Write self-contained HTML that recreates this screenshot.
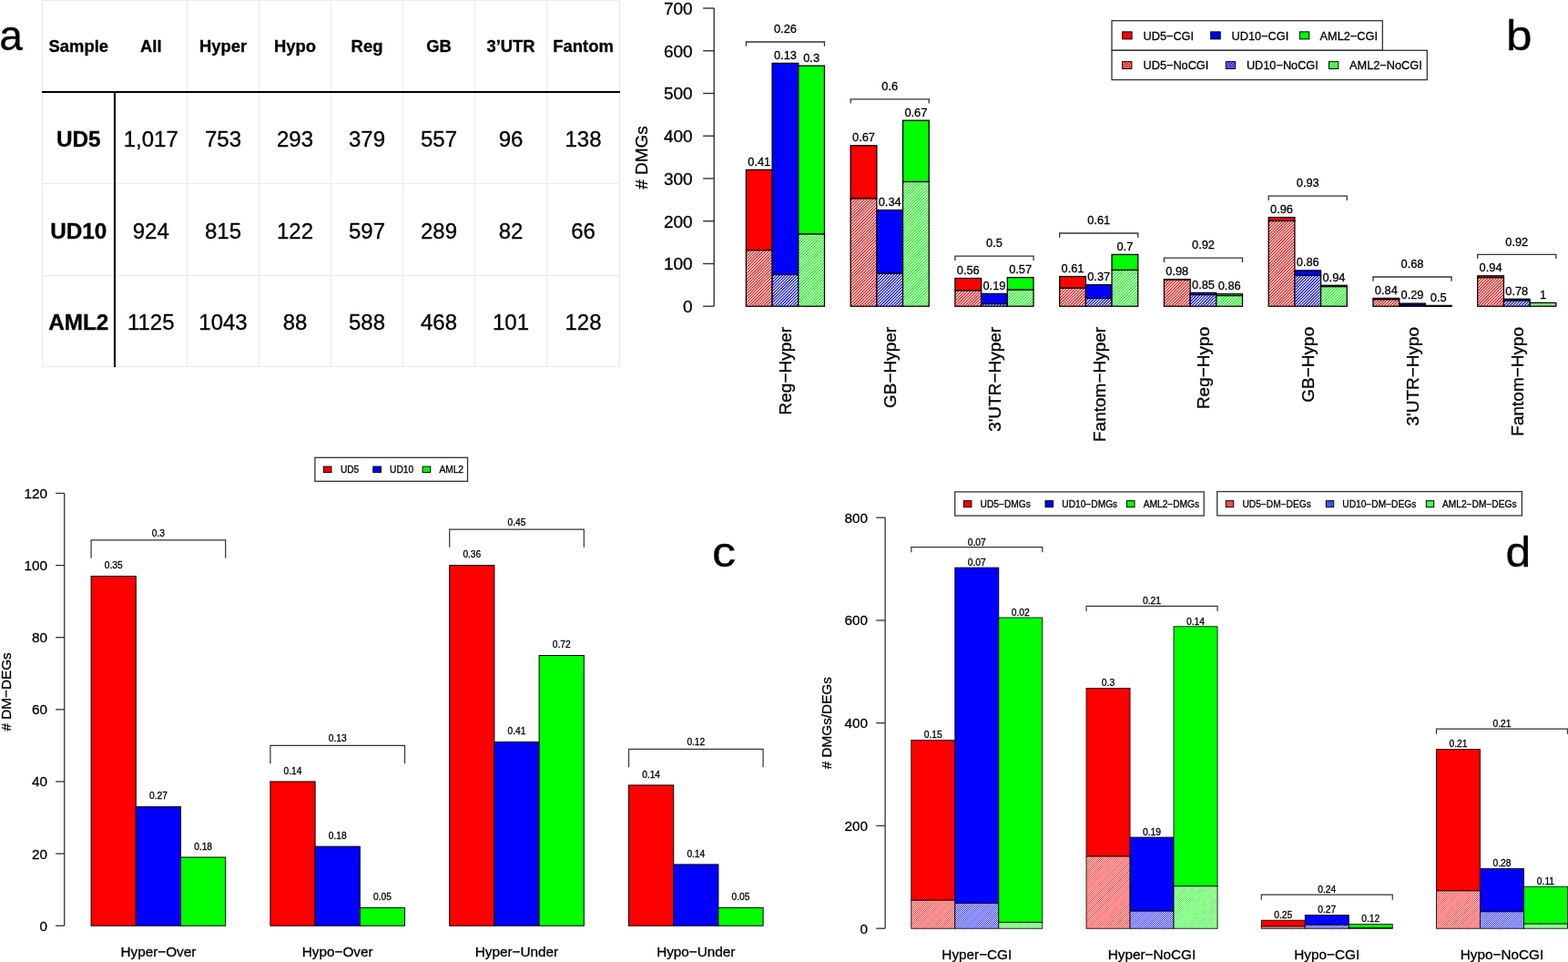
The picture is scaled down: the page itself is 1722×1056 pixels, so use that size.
<!DOCTYPE html>
<html><head><meta charset="utf-8"><title>Figure</title>
<style>
html,body{margin:0;padding:0;background:#fff;}
body{width:1722px;height:1056px;overflow:hidden;}
svg{display:block;font-family:"Liberation Sans", Arial, Helvetica, sans-serif;}
text{stroke:#000;stroke-width:0.3px;}
</style></head>
<body>
<svg width="1722" height="1056" viewBox="0 0 1722 1056">
<rect width="1722" height="1056" fill="#fff"/>
<defs>
<pattern id="hr" patternUnits="userSpaceOnUse" width="16" height="16"><rect width="16" height="16" fill="#fff"/><path d="M1,-1 L-17,17 M4.2,-1 L-13.8,17 M7.4,-1 L-10.6,17 M10.6,-1 L-7.4,17 M13.8,-1 L-4.2,17 M17,-1 L-1,17 M20.2,-1 L2.2,17 M23.4,-1 L5.4,17 M26.6,-1 L8.6,17 M29.8,-1 L11.8,17 M33,-1 L15,17" stroke="#ff0000" stroke-width="1.1"/></pattern>
<pattern id="hb" patternUnits="userSpaceOnUse" width="16" height="16"><rect width="16" height="16" fill="#fff"/><path d="M1,-1 L-17,17 M4.2,-1 L-13.8,17 M7.4,-1 L-10.6,17 M10.6,-1 L-7.4,17 M13.8,-1 L-4.2,17 M17,-1 L-1,17 M20.2,-1 L2.2,17 M23.4,-1 L5.4,17 M26.6,-1 L8.6,17 M29.8,-1 L11.8,17 M33,-1 L15,17" stroke="#0000ff" stroke-width="1.1"/></pattern>
<pattern id="hg" patternUnits="userSpaceOnUse" width="16" height="16"><rect width="16" height="16" fill="#fff"/><path d="M1,-1 L-17,17 M4.2,-1 L-13.8,17 M7.4,-1 L-10.6,17 M10.6,-1 L-7.4,17 M13.8,-1 L-4.2,17 M17,-1 L-1,17 M20.2,-1 L2.2,17 M23.4,-1 L5.4,17 M26.6,-1 L8.6,17 M29.8,-1 L11.8,17 M33,-1 L15,17" stroke="#00ff00" stroke-width="1.1"/></pattern>
<pattern id="dr" patternUnits="userSpaceOnUse" width="9" height="9"><rect width="9" height="9" fill="#fff"/><path d="M1,-1 L-10,10 M3.25,-1 L-7.75,10 M5.5,-1 L-5.5,10 M7.75,-1 L-3.25,10 M10,-1 L-1,10 M12.25,-1 L1.25,10 M14.5,-1 L3.5,10 M16.75,-1 L5.75,10 M19,-1 L8,10" stroke="#ff0000" stroke-width="1.0"/></pattern>
<pattern id="db" patternUnits="userSpaceOnUse" width="9" height="9"><rect width="9" height="9" fill="#fff"/><path d="M1,-1 L-10,10 M3.25,-1 L-7.75,10 M5.5,-1 L-5.5,10 M7.75,-1 L-3.25,10 M10,-1 L-1,10 M12.25,-1 L1.25,10 M14.5,-1 L3.5,10 M16.75,-1 L5.75,10 M19,-1 L8,10" stroke="#0000ff" stroke-width="1.0"/></pattern>
<pattern id="dg" patternUnits="userSpaceOnUse" width="9" height="9"><rect width="9" height="9" fill="#fff"/><path d="M1,-1 L-10,10 M3.25,-1 L-7.75,10 M5.5,-1 L-5.5,10 M7.75,-1 L-3.25,10 M10,-1 L-1,10 M12.25,-1 L1.25,10 M14.5,-1 L3.5,10 M16.75,-1 L5.75,10 M19,-1 L8,10" stroke="#00ff00" stroke-width="1.0"/></pattern>
<pattern id="lr" patternUnits="userSpaceOnUse" width="3" height="3"><rect width="3" height="3" fill="#fff"/><path d="M1,-1 L-4,4 M4,-1 L-1,4 M7,-1 L2,4" stroke="#ff0000" stroke-width="1.5"/></pattern>
<pattern id="lb" patternUnits="userSpaceOnUse" width="3" height="3"><rect width="3" height="3" fill="#fff"/><path d="M1,-1 L-4,4 M4,-1 L-1,4 M7,-1 L2,4" stroke="#0000ff" stroke-width="1.5"/></pattern>
<pattern id="lg" patternUnits="userSpaceOnUse" width="3" height="3"><rect width="3" height="3" fill="#fff"/><path d="M1,-1 L-4,4 M4,-1 L-1,4 M7,-1 L2,4" stroke="#00ff00" stroke-width="1.5"/></pattern>
<pattern id="mr" patternUnits="userSpaceOnUse" width="9" height="9"><rect width="9" height="9" fill="#fff"/><path d="M1,-1 L-10,10 M3.25,-1 L-7.75,10 M5.5,-1 L-5.5,10 M7.75,-1 L-3.25,10 M10,-1 L-1,10 M12.25,-1 L1.25,10 M14.5,-1 L3.5,10 M16.75,-1 L5.75,10 M19,-1 L8,10" stroke="#ff0000" stroke-width="1.2"/></pattern>
<pattern id="mb" patternUnits="userSpaceOnUse" width="9" height="9"><rect width="9" height="9" fill="#fff"/><path d="M1,-1 L-10,10 M3.25,-1 L-7.75,10 M5.5,-1 L-5.5,10 M7.75,-1 L-3.25,10 M10,-1 L-1,10 M12.25,-1 L1.25,10 M14.5,-1 L3.5,10 M16.75,-1 L5.75,10 M19,-1 L8,10" stroke="#0000ff" stroke-width="1.2"/></pattern>
<pattern id="mg" patternUnits="userSpaceOnUse" width="9" height="9"><rect width="9" height="9" fill="#fff"/><path d="M1,-1 L-10,10 M3.25,-1 L-7.75,10 M5.5,-1 L-5.5,10 M7.75,-1 L-3.25,10 M10,-1 L-1,10 M12.25,-1 L1.25,10 M14.5,-1 L3.5,10 M16.75,-1 L5.75,10 M19,-1 L8,10" stroke="#00ff00" stroke-width="1.2"/></pattern>
</defs>
<text transform="translate(-0.8,55) scale(0.98,1)" font-size="47" >a</text>
<line x1="46.5" y1="0" x2="46.5" y2="403" stroke="#ebebeb" stroke-width="1" />
<line x1="205.5" y1="0" x2="205.5" y2="403" stroke="#ebebeb" stroke-width="1" />
<line x1="284.5" y1="0" x2="284.5" y2="403" stroke="#ebebeb" stroke-width="1" />
<line x1="363.5" y1="0" x2="363.5" y2="403" stroke="#ebebeb" stroke-width="1" />
<line x1="442.5" y1="0" x2="442.5" y2="403" stroke="#ebebeb" stroke-width="1" />
<line x1="521.5" y1="0" x2="521.5" y2="403" stroke="#ebebeb" stroke-width="1" />
<line x1="600.5" y1="0" x2="600.5" y2="403" stroke="#ebebeb" stroke-width="1" />
<line x1="680.5" y1="0" x2="680.5" y2="403" stroke="#ebebeb" stroke-width="1" />
<line x1="46" y1="0.5" x2="681" y2="0.5" stroke="#ebebeb" stroke-width="1" />
<line x1="46" y1="201.5" x2="681" y2="201.5" stroke="#ebebeb" stroke-width="1" />
<line x1="46" y1="302.5" x2="681" y2="302.5" stroke="#ebebeb" stroke-width="1" />
<line x1="46" y1="402.5" x2="681" y2="402.5" stroke="#ebebeb" stroke-width="1" />
<line x1="46" y1="101" x2="681" y2="101" stroke="#000" stroke-width="2.1" />
<line x1="126" y1="101" x2="126" y2="403" stroke="#000" stroke-width="2.1" />
<text transform="translate(86.25,57) scale(1.035,1)" font-size="17.8" text-anchor="middle" font-weight="bold" >Sample</text>
<text transform="translate(165.75,57) scale(1.035,1)" font-size="17.8" text-anchor="middle" font-weight="bold" >All</text>
<text transform="translate(245,57) scale(1.035,1)" font-size="17.8" text-anchor="middle" font-weight="bold" >Hyper</text>
<text transform="translate(324,57) scale(1.035,1)" font-size="17.8" text-anchor="middle" font-weight="bold" >Hypo</text>
<text transform="translate(403,57) scale(1.035,1)" font-size="17.8" text-anchor="middle" font-weight="bold" >Reg</text>
<text transform="translate(482,57) scale(1.035,1)" font-size="17.8" text-anchor="middle" font-weight="bold" >GB</text>
<text transform="translate(561,57) scale(1.035,1)" font-size="17.8" text-anchor="middle" font-weight="bold" >3’UTR</text>
<text transform="translate(640.5,57) scale(1.035,1)" font-size="17.8" text-anchor="middle" font-weight="bold" >Fantom</text>
<text transform="translate(86.25,160.9) scale(1.05,1)" font-size="23.2" text-anchor="middle" font-weight="bold" >UD5</text>
<text transform="translate(165.75,160.9) scale(1.035,1)" font-size="23.2" text-anchor="middle" >1,017</text>
<text transform="translate(245,160.9) scale(1.035,1)" font-size="23.2" text-anchor="middle" >753</text>
<text transform="translate(324,160.9) scale(1.035,1)" font-size="23.2" text-anchor="middle" >293</text>
<text transform="translate(403,160.9) scale(1.035,1)" font-size="23.2" text-anchor="middle" >379</text>
<text transform="translate(482,160.9) scale(1.035,1)" font-size="23.2" text-anchor="middle" >557</text>
<text transform="translate(561,160.9) scale(1.035,1)" font-size="23.2" text-anchor="middle" >96</text>
<text transform="translate(640.5,160.9) scale(1.035,1)" font-size="23.2" text-anchor="middle" >138</text>
<text transform="translate(86.25,262.2) scale(1.05,1)" font-size="23.2" text-anchor="middle" font-weight="bold" >UD10</text>
<text transform="translate(165.75,262.2) scale(1.035,1)" font-size="23.2" text-anchor="middle" >924</text>
<text transform="translate(245,262.2) scale(1.035,1)" font-size="23.2" text-anchor="middle" >815</text>
<text transform="translate(324,262.2) scale(1.035,1)" font-size="23.2" text-anchor="middle" >122</text>
<text transform="translate(403,262.2) scale(1.035,1)" font-size="23.2" text-anchor="middle" >597</text>
<text transform="translate(482,262.2) scale(1.035,1)" font-size="23.2" text-anchor="middle" >289</text>
<text transform="translate(561,262.2) scale(1.035,1)" font-size="23.2" text-anchor="middle" >82</text>
<text transform="translate(640.5,262.2) scale(1.035,1)" font-size="23.2" text-anchor="middle" >66</text>
<text transform="translate(86.25,362) scale(1.05,1)" font-size="23.2" text-anchor="middle" font-weight="bold" >AML2</text>
<text transform="translate(165.75,362) scale(1.035,1)" font-size="23.2" text-anchor="middle" >1125</text>
<text transform="translate(245,362) scale(1.035,1)" font-size="23.2" text-anchor="middle" >1043</text>
<text transform="translate(324,362) scale(1.035,1)" font-size="23.2" text-anchor="middle" >88</text>
<text transform="translate(403,362) scale(1.035,1)" font-size="23.2" text-anchor="middle" >588</text>
<text transform="translate(482,362) scale(1.035,1)" font-size="23.2" text-anchor="middle" >468</text>
<text transform="translate(561,362) scale(1.035,1)" font-size="23.2" text-anchor="middle" >101</text>
<text transform="translate(640.5,362) scale(1.035,1)" font-size="23.2" text-anchor="middle" >128</text>
<line x1="784.2" y1="336.2" x2="784.2" y2="9.02" stroke="#333" stroke-width="1.4" />
<line x1="772.1" y1="336.2" x2="784.2" y2="336.2" stroke="#333" stroke-width="1.4" />
<text x="760.6" y="343" font-size="19" text-anchor="end" >0</text>
<line x1="772.1" y1="289.46" x2="784.2" y2="289.46" stroke="#333" stroke-width="1.4" />
<text x="760.6" y="296.26" font-size="19" text-anchor="end" >100</text>
<line x1="772.1" y1="242.72" x2="784.2" y2="242.72" stroke="#333" stroke-width="1.4" />
<text x="760.6" y="249.52" font-size="19" text-anchor="end" >200</text>
<line x1="772.1" y1="195.98" x2="784.2" y2="195.98" stroke="#333" stroke-width="1.4" />
<text x="760.6" y="202.78" font-size="19" text-anchor="end" >300</text>
<line x1="772.1" y1="149.24" x2="784.2" y2="149.24" stroke="#333" stroke-width="1.4" />
<text x="760.6" y="156.04" font-size="19" text-anchor="end" >400</text>
<line x1="772.1" y1="102.5" x2="784.2" y2="102.5" stroke="#333" stroke-width="1.4" />
<text x="760.6" y="109.3" font-size="19" text-anchor="end" >500</text>
<line x1="772.1" y1="55.76" x2="784.2" y2="55.76" stroke="#333" stroke-width="1.4" />
<text x="760.6" y="62.56" font-size="19" text-anchor="end" >600</text>
<line x1="772.1" y1="9.02" x2="784.2" y2="9.02" stroke="#333" stroke-width="1.4" />
<text x="760.6" y="15.82" font-size="19" text-anchor="end" >700</text>
<text transform="translate(711,173) rotate(-90)" font-size="19" text-anchor="middle" ># DMGs</text>
<rect x="819.4" y="186.4" width="28.69" height="88.38" fill="#ff0000" stroke="#000" stroke-width="1.3" />
<rect x="819.4" y="274.78" width="28.69" height="61.42" fill="url(#hr)" stroke="#000" stroke-width="1.3" />
<text x="833.75" y="181.7" font-size="12.8" text-anchor="middle" >0.41</text>
<rect x="848.09" y="69.4" width="28.69" height="232.12" fill="#0000ff" stroke="#000" stroke-width="1.3" />
<rect x="848.09" y="301.52" width="28.69" height="34.68" fill="url(#hb)" stroke="#000" stroke-width="1.3" />
<text x="862.44" y="64.7" font-size="12.8" text-anchor="middle" >0.13</text>
<rect x="876.78" y="72.2" width="28.69" height="184.8" fill="#00ff00" stroke="#000" stroke-width="1.3" />
<rect x="876.78" y="257" width="28.69" height="79.2" fill="url(#hg)" stroke="#000" stroke-width="1.3" />
<text x="891.12" y="67.5" font-size="12.8" text-anchor="middle" >0.3</text>
<path d="M819.4,50.7 V46 H905.47 V50.7" fill="none" stroke="#333" stroke-width="1.3"/>
<text x="862.43" y="36.1" font-size="12.8" text-anchor="middle" >0.26</text>
<text transform="translate(869.23,358.8) rotate(-90)" font-size="19" text-anchor="end" >Reg−Hyper</text>
<rect x="934.16" y="159.8" width="28.69" height="58.21" fill="#ff0000" stroke="#000" stroke-width="1.3" />
<rect x="934.16" y="218.01" width="28.69" height="118.19" fill="url(#hr)" stroke="#000" stroke-width="1.3" />
<text x="948.5" y="155.1" font-size="12.8" text-anchor="middle" >0.67</text>
<rect x="962.85" y="230.6" width="28.69" height="69.7" fill="#0000ff" stroke="#000" stroke-width="1.3" />
<rect x="962.85" y="300.3" width="28.69" height="35.9" fill="url(#hb)" stroke="#000" stroke-width="1.3" />
<text x="977.2" y="225.9" font-size="12.8" text-anchor="middle" >0.34</text>
<rect x="991.54" y="132.2" width="28.69" height="67.32" fill="#00ff00" stroke="#000" stroke-width="1.3" />
<rect x="991.54" y="199.52" width="28.69" height="136.68" fill="url(#hg)" stroke="#000" stroke-width="1.3" />
<text x="1005.88" y="127.5" font-size="12.8" text-anchor="middle" >0.67</text>
<path d="M934.16,113.5 V108.8 H1020.23 V113.5" fill="none" stroke="#333" stroke-width="1.3"/>
<text x="977.19" y="98.9" font-size="12.8" text-anchor="middle" >0.6</text>
<text transform="translate(983.99,358.8) rotate(-90)" font-size="19" text-anchor="end" >GB−Hyper</text>
<rect x="1048.92" y="305.5" width="28.69" height="13.51" fill="#ff0000" stroke="#000" stroke-width="1.3" />
<rect x="1048.92" y="319.01" width="28.69" height="17.19" fill="url(#hr)" stroke="#000" stroke-width="1.3" />
<text x="1063.27" y="300.8" font-size="12.8" text-anchor="middle" >0.56</text>
<rect x="1077.61" y="322.4" width="28.69" height="11.18" fill="#0000ff" stroke="#000" stroke-width="1.3" />
<rect x="1077.61" y="333.58" width="28.69" height="2.62" fill="url(#hb)" stroke="#000" stroke-width="1.3" />
<text x="1091.96" y="317.7" font-size="12.8" text-anchor="middle" >0.19</text>
<rect x="1106.3" y="304.6" width="28.69" height="13.59" fill="#00ff00" stroke="#000" stroke-width="1.3" />
<rect x="1106.3" y="318.19" width="28.69" height="18.01" fill="url(#hg)" stroke="#000" stroke-width="1.3" />
<text x="1120.65" y="299.9" font-size="12.8" text-anchor="middle" >0.57</text>
<path d="M1048.92,285.9 V281.2 H1134.99 V285.9" fill="none" stroke="#333" stroke-width="1.3"/>
<text x="1091.96" y="271.3" font-size="12.8" text-anchor="middle" >0.5</text>
<text transform="translate(1098.76,358.8) rotate(-90)" font-size="19" text-anchor="end" >3'UTR−Hyper</text>
<rect x="1163.68" y="303.5" width="28.69" height="12.75" fill="#ff0000" stroke="#000" stroke-width="1.3" />
<rect x="1163.68" y="316.25" width="28.69" height="19.95" fill="url(#hr)" stroke="#000" stroke-width="1.3" />
<text x="1178.03" y="298.8" font-size="12.8" text-anchor="middle" >0.61</text>
<rect x="1192.37" y="312.6" width="28.69" height="14.87" fill="#0000ff" stroke="#000" stroke-width="1.3" />
<rect x="1192.37" y="327.47" width="28.69" height="8.73" fill="url(#hb)" stroke="#000" stroke-width="1.3" />
<text x="1206.72" y="307.9" font-size="12.8" text-anchor="middle" >0.37</text>
<rect x="1221.06" y="279.4" width="28.69" height="17.04" fill="#00ff00" stroke="#000" stroke-width="1.3" />
<rect x="1221.06" y="296.44" width="28.69" height="39.76" fill="url(#hg)" stroke="#000" stroke-width="1.3" />
<text x="1235.41" y="274.7" font-size="12.8" text-anchor="middle" >0.7</text>
<path d="M1163.68,260.7 V256 H1249.75 V260.7" fill="none" stroke="#333" stroke-width="1.3"/>
<text x="1206.72" y="246.1" font-size="12.8" text-anchor="middle" >0.61</text>
<text transform="translate(1213.52,358.8) rotate(-90)" font-size="19" text-anchor="end" >Fantom−Hyper</text>
<rect x="1278.44" y="306.6" width="28.69" height="0.59" fill="#ff0000" stroke="#000" stroke-width="1.3" />
<rect x="1278.44" y="307.19" width="28.69" height="29.01" fill="url(#hr)" stroke="#000" stroke-width="1.3" />
<text x="1292.79" y="301.9" font-size="12.8" text-anchor="middle" >0.98</text>
<rect x="1307.13" y="321.4" width="28.69" height="2.22" fill="#0000ff" stroke="#000" stroke-width="1.3" />
<rect x="1307.13" y="323.62" width="28.69" height="12.58" fill="url(#hb)" stroke="#000" stroke-width="1.3" />
<text x="1321.48" y="316.7" font-size="12.8" text-anchor="middle" >0.85</text>
<rect x="1335.82" y="322.7" width="28.69" height="1.89" fill="#00ff00" stroke="#000" stroke-width="1.3" />
<rect x="1335.82" y="324.59" width="28.69" height="11.61" fill="url(#hg)" stroke="#000" stroke-width="1.3" />
<text x="1350.17" y="318" font-size="12.8" text-anchor="middle" >0.86</text>
<path d="M1278.44,287.9 V283.2 H1364.51 V287.9" fill="none" stroke="#333" stroke-width="1.3"/>
<text x="1321.48" y="273.3" font-size="12.8" text-anchor="middle" >0.92</text>
<text transform="translate(1328.28,358.8) rotate(-90)" font-size="19" text-anchor="end" >Reg−Hypo</text>
<rect x="1393.2" y="238.6" width="28.69" height="3.9" fill="#ff0000" stroke="#000" stroke-width="1.3" />
<rect x="1393.2" y="242.5" width="28.69" height="93.7" fill="url(#hr)" stroke="#000" stroke-width="1.3" />
<text x="1407.55" y="233.9" font-size="12.8" text-anchor="middle" >0.96</text>
<rect x="1421.89" y="296.9" width="28.69" height="5.5" fill="#0000ff" stroke="#000" stroke-width="1.3" />
<rect x="1421.89" y="302.4" width="28.69" height="33.8" fill="url(#hb)" stroke="#000" stroke-width="1.3" />
<text x="1436.24" y="292.2" font-size="12.8" text-anchor="middle" >0.86</text>
<rect x="1450.58" y="313.3" width="28.69" height="1.37" fill="#00ff00" stroke="#000" stroke-width="1.3" />
<rect x="1450.58" y="314.67" width="28.69" height="21.53" fill="url(#hg)" stroke="#000" stroke-width="1.3" />
<text x="1464.93" y="308.6" font-size="12.8" text-anchor="middle" >0.94</text>
<path d="M1393.2,219.9 V215.2 H1479.27 V219.9" fill="none" stroke="#333" stroke-width="1.3"/>
<text x="1436.24" y="205.3" font-size="12.8" text-anchor="middle" >0.93</text>
<text transform="translate(1443.04,358.8) rotate(-90)" font-size="19" text-anchor="end" >GB−Hypo</text>
<rect x="1507.96" y="327.4" width="28.69" height="1.41" fill="#ff0000" stroke="#000" stroke-width="1.3" />
<rect x="1507.96" y="328.81" width="28.69" height="7.39" fill="url(#hr)" stroke="#000" stroke-width="1.3" />
<text x="1522.31" y="322.7" font-size="12.8" text-anchor="middle" >0.84</text>
<rect x="1536.65" y="333.1" width="28.69" height="2.2" fill="#0000ff" stroke="#000" stroke-width="1.3" />
<rect x="1536.65" y="335.3" width="28.69" height="0.9" fill="url(#hb)" stroke="#000" stroke-width="1.3" />
<text x="1551" y="328.4" font-size="12.8" text-anchor="middle" >0.29</text>
<rect x="1565.34" y="335.4" width="28.69" height="0.4" fill="#00ff00" stroke="#000" stroke-width="1.3" />
<rect x="1565.34" y="335.8" width="28.69" height="0.4" fill="url(#hg)" stroke="#000" stroke-width="1.3" />
<text x="1579.69" y="330.7" font-size="12.8" text-anchor="middle" >0.5</text>
<path d="M1507.96,308.7 V304 H1594.03 V308.7" fill="none" stroke="#333" stroke-width="1.3"/>
<text x="1551" y="294.1" font-size="12.8" text-anchor="middle" >0.68</text>
<text transform="translate(1557.8,358.8) rotate(-90)" font-size="19" text-anchor="end" >3'UTR−Hypo</text>
<rect x="1622.72" y="302.8" width="28.69" height="2" fill="#ff0000" stroke="#000" stroke-width="1.3" />
<rect x="1622.72" y="304.8" width="28.69" height="31.4" fill="url(#hr)" stroke="#000" stroke-width="1.3" />
<text x="1637.07" y="298.1" font-size="12.8" text-anchor="middle" >0.94</text>
<rect x="1651.41" y="328.3" width="28.69" height="1.74" fill="#0000ff" stroke="#000" stroke-width="1.3" />
<rect x="1651.41" y="330.04" width="28.69" height="6.16" fill="url(#hb)" stroke="#000" stroke-width="1.3" />
<text x="1665.76" y="323.6" font-size="12.8" text-anchor="middle" >0.78</text>
<rect x="1680.1" y="332.4" width="28.69" height="3.8" fill="url(#hg)" stroke="#000" stroke-width="1.3" />
<text x="1694.45" y="327.7" font-size="12.8" text-anchor="middle" >1</text>
<path d="M1622.72,284.1 V279.4 H1708.79 V284.1" fill="none" stroke="#333" stroke-width="1.3"/>
<text x="1665.76" y="269.5" font-size="12.8" text-anchor="middle" >0.92</text>
<text transform="translate(1672.56,358.8) rotate(-90)" font-size="19" text-anchor="end" >Fantom−Hypo</text>
<rect x="1221" y="22.7" width="297.3" height="32.6" fill="none" stroke="#333" stroke-width="1.3" />
<rect x="1221" y="55.3" width="346.3" height="32.3" fill="none" stroke="#333" stroke-width="1.3" />
<rect x="1232.6" y="34.9" width="10.5" height="8" fill="#ff0000" stroke="#000" stroke-width="1" />
<text transform="translate(1255.5,43.9) scale(0.98,1)" font-size="13" >UD5−CGI</text>
<rect x="1329.7" y="34.9" width="10.5" height="8" fill="#0000ff" stroke="#000" stroke-width="1" />
<text transform="translate(1352.6,43.9) scale(0.98,1)" font-size="13" >UD10−CGI</text>
<rect x="1427.3" y="34.9" width="10.5" height="8" fill="#00ff00" stroke="#000" stroke-width="1" />
<text transform="translate(1449.6,43.9) scale(0.98,1)" font-size="13" >AML2−CGI</text>
<rect x="1232.6" y="67.7" width="10.3" height="7.8" fill="url(#lr)" stroke="#000" stroke-width="1" />
<text transform="translate(1255.5,75.9) scale(0.98,1)" font-size="13" >UD5−NoCGI</text>
<rect x="1346.3" y="67.7" width="10.3" height="7.8" fill="url(#lb)" stroke="#000" stroke-width="1" />
<text transform="translate(1368.9,75.9) scale(0.98,1)" font-size="13" >UD10−NoCGI</text>
<rect x="1459.5" y="67.7" width="10.3" height="7.8" fill="url(#lg)" stroke="#000" stroke-width="1" />
<text transform="translate(1482.1,75.9) scale(0.98,1)" font-size="13" >AML2−NoCGI</text>
<text transform="translate(1654,54.5) scale(1.09,1)" font-size="47" >b</text>
<line x1="70.7" y1="1016.2" x2="70.7" y2="541.48" stroke="#333" stroke-width="1.3" />
<line x1="61.1" y1="1016.2" x2="70.7" y2="1016.2" stroke="#333" stroke-width="1.3" />
<text x="52.1" y="1021.7" font-size="15.3" text-anchor="end" >0</text>
<line x1="61.1" y1="937.08" x2="70.7" y2="937.08" stroke="#333" stroke-width="1.3" />
<text x="52.1" y="942.58" font-size="15.3" text-anchor="end" >20</text>
<line x1="61.1" y1="857.96" x2="70.7" y2="857.96" stroke="#333" stroke-width="1.3" />
<text x="52.1" y="863.46" font-size="15.3" text-anchor="end" >40</text>
<line x1="61.1" y1="778.84" x2="70.7" y2="778.84" stroke="#333" stroke-width="1.3" />
<text x="52.1" y="784.34" font-size="15.3" text-anchor="end" >60</text>
<line x1="61.1" y1="699.72" x2="70.7" y2="699.72" stroke="#333" stroke-width="1.3" />
<text x="52.1" y="705.22" font-size="15.3" text-anchor="end" >80</text>
<line x1="61.1" y1="620.6" x2="70.7" y2="620.6" stroke="#333" stroke-width="1.3" />
<text x="52.1" y="626.1" font-size="15.3" text-anchor="end" >100</text>
<line x1="61.1" y1="541.48" x2="70.7" y2="541.48" stroke="#333" stroke-width="1.3" />
<text x="52.1" y="546.98" font-size="15.3" text-anchor="end" >120</text>
<text transform="translate(11.8,759.4) rotate(-90)" font-size="15.3" text-anchor="middle" ># DM−DEGs</text>
<rect x="100.1" y="632.47" width="49.2" height="383.73" fill="#ff0000" stroke="#000" stroke-width="1.0" />
<text x="124.7" y="624.27" font-size="10.2" text-anchor="middle" >0.35</text>
<rect x="149.3" y="885.65" width="49.2" height="130.55" fill="#0000ff" stroke="#000" stroke-width="1.0" />
<text x="173.9" y="877.45" font-size="10.2" text-anchor="middle" >0.27</text>
<rect x="198.5" y="941.04" width="49.2" height="75.16" fill="#00ff00" stroke="#000" stroke-width="1.0" />
<text x="223.1" y="932.84" font-size="10.2" text-anchor="middle" >0.18</text>
<path d="M100.1,612.69 V592.91 H247.7 V612.69" fill="none" stroke="#333" stroke-width="1.2"/>
<text x="173.9" y="588.71" font-size="10.2" text-anchor="middle" >0.3</text>
<text x="173.9" y="1050.1" font-size="15.3" text-anchor="middle" >Hyper−Over</text>
<rect x="296.9" y="857.96" width="49.2" height="158.24" fill="#ff0000" stroke="#000" stroke-width="1.0" />
<text x="321.5" y="849.76" font-size="10.2" text-anchor="middle" >0.14</text>
<rect x="346.1" y="929.17" width="49.2" height="87.03" fill="#0000ff" stroke="#000" stroke-width="1.0" />
<text x="370.7" y="920.97" font-size="10.2" text-anchor="middle" >0.18</text>
<rect x="395.3" y="996.42" width="49.2" height="19.78" fill="#00ff00" stroke="#000" stroke-width="1.0" />
<text x="419.9" y="988.22" font-size="10.2" text-anchor="middle" >0.05</text>
<path d="M296.9,838.18 V818.4 H444.5 V838.18" fill="none" stroke="#333" stroke-width="1.2"/>
<text x="370.7" y="814.2" font-size="10.2" text-anchor="middle" >0.13</text>
<text x="370.7" y="1050.1" font-size="15.3" text-anchor="middle" >Hypo−Over</text>
<rect x="493.7" y="620.6" width="49.2" height="395.6" fill="#ff0000" stroke="#000" stroke-width="1.0" />
<text x="518.3" y="612.4" font-size="10.2" text-anchor="middle" >0.36</text>
<rect x="542.9" y="814.44" width="49.2" height="201.76" fill="#0000ff" stroke="#000" stroke-width="1.0" />
<text x="567.5" y="806.24" font-size="10.2" text-anchor="middle" >0.41</text>
<rect x="592.1" y="719.5" width="49.2" height="296.7" fill="#00ff00" stroke="#000" stroke-width="1.0" />
<text x="616.7" y="711.3" font-size="10.2" text-anchor="middle" >0.72</text>
<path d="M493.7,600.82 V581.04 H641.3 V600.82" fill="none" stroke="#333" stroke-width="1.2"/>
<text x="567.5" y="576.84" font-size="10.2" text-anchor="middle" >0.45</text>
<text x="567.5" y="1050.1" font-size="15.3" text-anchor="middle" >Hyper−Under</text>
<rect x="690.5" y="861.92" width="49.2" height="154.28" fill="#ff0000" stroke="#000" stroke-width="1.0" />
<text x="715.1" y="853.72" font-size="10.2" text-anchor="middle" >0.14</text>
<rect x="739.7" y="948.95" width="49.2" height="67.25" fill="#0000ff" stroke="#000" stroke-width="1.0" />
<text x="764.3" y="940.75" font-size="10.2" text-anchor="middle" >0.14</text>
<rect x="788.9" y="996.42" width="49.2" height="19.78" fill="#00ff00" stroke="#000" stroke-width="1.0" />
<text x="813.5" y="988.22" font-size="10.2" text-anchor="middle" >0.05</text>
<path d="M690.5,842.14 V822.36 H838.1 V842.14" fill="none" stroke="#333" stroke-width="1.2"/>
<text x="764.3" y="818.16" font-size="10.2" text-anchor="middle" >0.12</text>
<text x="764.3" y="1050.1" font-size="15.3" text-anchor="middle" >Hypo−Under</text>
<rect x="345.9" y="502.3" width="167.6" height="26" fill="none" stroke="#333" stroke-width="1.3" />
<rect x="355.3" y="512.1" width="8.6" height="6.5" fill="#ff0000" stroke="#000" stroke-width="1" />
<text x="373.9" y="518.8" font-size="10.2" >UD5</text>
<rect x="409.8" y="512.1" width="8.6" height="6.5" fill="#0000ff" stroke="#000" stroke-width="1" />
<text x="428.1" y="518.8" font-size="10.2" >UD10</text>
<rect x="464.1" y="512.1" width="8.6" height="6.5" fill="#00ff00" stroke="#000" stroke-width="1" />
<text x="482.4" y="518.8" font-size="10.2" >AML2</text>
<text transform="translate(782,622) scale(1.11,1)" font-size="47" >c</text>
<line x1="972.1" y1="1019.2" x2="972.1" y2="568.2" stroke="#333" stroke-width="1.3" />
<line x1="962.2" y1="1019.2" x2="972.1" y2="1019.2" stroke="#333" stroke-width="1.3" />
<text x="953" y="1024.7" font-size="15.3" text-anchor="end" >0</text>
<line x1="962.2" y1="906.45" x2="972.1" y2="906.45" stroke="#333" stroke-width="1.3" />
<text x="953" y="911.95" font-size="15.3" text-anchor="end" >200</text>
<line x1="962.2" y1="793.7" x2="972.1" y2="793.7" stroke="#333" stroke-width="1.3" />
<text x="953" y="799.2" font-size="15.3" text-anchor="end" >400</text>
<line x1="962.2" y1="680.95" x2="972.1" y2="680.95" stroke="#333" stroke-width="1.3" />
<text x="953" y="686.45" font-size="15.3" text-anchor="end" >600</text>
<line x1="962.2" y1="568.2" x2="972.1" y2="568.2" stroke="#333" stroke-width="1.3" />
<text x="953" y="573.7" font-size="15.3" text-anchor="end" >800</text>
<text transform="translate(913.1,793.7) rotate(-90)" font-size="15.3" text-anchor="middle" ># DMGs/DEGs</text>
<rect x="1000.8" y="812.5" width="48" height="175.7" fill="#ff0000" stroke="#000" stroke-width="0.85" />
<rect x="1000.8" y="988.2" width="48" height="31.01" fill="url(#dr)" stroke="#000" stroke-width="0.85" />
<text x="1024.8" y="810.3" font-size="10.3" text-anchor="middle" >0.15</text>
<rect x="1048.8" y="623.1" width="48" height="368.37" fill="#0000ff" stroke="#000" stroke-width="0.85" />
<rect x="1048.8" y="991.47" width="48" height="27.73" fill="url(#db)" stroke="#000" stroke-width="0.85" />
<text x="1072.8" y="620.9" font-size="10.3" text-anchor="middle" >0.07</text>
<rect x="1096.8" y="678" width="48" height="334.38" fill="#00ff00" stroke="#000" stroke-width="0.85" />
<rect x="1096.8" y="1012.38" width="48" height="6.82" fill="url(#dg)" stroke="#000" stroke-width="0.85" />
<text x="1120.8" y="675.8" font-size="10.3" text-anchor="middle" >0.02</text>
<path d="M1000.8,606.3 V600.6 H1144.8 V606.3" fill="none" stroke="#333" stroke-width="1.2"/>
<text x="1072.8" y="598.6" font-size="10.3" text-anchor="middle" >0.07</text>
<text x="1072.8" y="1052.6" font-size="15.3" text-anchor="middle" >Hyper−CGI</text>
<rect x="1193.02" y="755.5" width="48" height="184.59" fill="#ff0000" stroke="#000" stroke-width="0.85" />
<rect x="1193.02" y="940.09" width="48" height="79.11" fill="url(#dr)" stroke="#000" stroke-width="0.85" />
<text x="1217.02" y="753.3" font-size="10.3" text-anchor="middle" >0.3</text>
<rect x="1241.02" y="919.1" width="48" height="81.08" fill="#0000ff" stroke="#000" stroke-width="0.85" />
<rect x="1241.02" y="1000.18" width="48" height="19.02" fill="url(#db)" stroke="#000" stroke-width="0.85" />
<text x="1265.02" y="916.9" font-size="10.3" text-anchor="middle" >0.19</text>
<rect x="1289.02" y="687.8" width="48" height="285" fill="#00ff00" stroke="#000" stroke-width="0.85" />
<rect x="1289.02" y="972.8" width="48" height="46.4" fill="url(#dg)" stroke="#000" stroke-width="0.85" />
<text x="1313.02" y="685.6" font-size="10.3" text-anchor="middle" >0.14</text>
<path d="M1193.02,671 V665.3 H1337.02 V671" fill="none" stroke="#333" stroke-width="1.2"/>
<text x="1265.02" y="663.3" font-size="10.3" text-anchor="middle" >0.21</text>
<text x="1265.02" y="1052.6" font-size="15.3" text-anchor="middle" >Hyper−NoCGI</text>
<rect x="1385.24" y="1010.2" width="48" height="6.75" fill="#ff0000" stroke="#000" stroke-width="0.85" />
<rect x="1385.24" y="1016.95" width="48" height="2.25" fill="url(#dr)" stroke="#000" stroke-width="0.85" />
<text x="1409.24" y="1008" font-size="10.3" text-anchor="middle" >0.25</text>
<rect x="1433.24" y="1004.6" width="48" height="10.66" fill="#0000ff" stroke="#000" stroke-width="0.85" />
<rect x="1433.24" y="1015.26" width="48" height="3.94" fill="url(#db)" stroke="#000" stroke-width="0.85" />
<text x="1457.24" y="1002.4" font-size="10.3" text-anchor="middle" >0.27</text>
<rect x="1481.24" y="1014.5" width="48" height="4.14" fill="#00ff00" stroke="#000" stroke-width="0.85" />
<rect x="1481.24" y="1018.64" width="48" height="0.56" fill="url(#dg)" stroke="#000" stroke-width="0.85" />
<text x="1505.24" y="1012.3" font-size="10.3" text-anchor="middle" >0.12</text>
<path d="M1385.24,987.8 V982.1 H1529.24 V987.8" fill="none" stroke="#333" stroke-width="1.2"/>
<text x="1457.24" y="980.1" font-size="10.3" text-anchor="middle" >0.24</text>
<text x="1457.24" y="1052.6" font-size="15.3" text-anchor="middle" >Hypo−CGI</text>
<rect x="1577.46" y="822.6" width="48" height="155.31" fill="#ff0000" stroke="#000" stroke-width="0.85" />
<rect x="1577.46" y="977.91" width="48" height="41.29" fill="url(#dr)" stroke="#000" stroke-width="0.85" />
<text x="1601.46" y="820.4" font-size="10.3" text-anchor="middle" >0.21</text>
<rect x="1625.46" y="953.6" width="48" height="47.23" fill="#0000ff" stroke="#000" stroke-width="0.85" />
<rect x="1625.46" y="1000.83" width="48" height="18.37" fill="url(#db)" stroke="#000" stroke-width="0.85" />
<text x="1649.46" y="951.4" font-size="10.3" text-anchor="middle" >0.28</text>
<rect x="1673.46" y="973.2" width="48" height="40.94" fill="#00ff00" stroke="#000" stroke-width="0.85" />
<rect x="1673.46" y="1014.14" width="48" height="5.06" fill="url(#dg)" stroke="#000" stroke-width="0.85" />
<text x="1697.46" y="971" font-size="10.3" text-anchor="middle" >0.11</text>
<path d="M1577.46,805.8 V800.1 H1721.46 V805.8" fill="none" stroke="#333" stroke-width="1.2"/>
<text x="1649.46" y="798.1" font-size="10.3" text-anchor="middle" >0.21</text>
<text x="1649.46" y="1052.6" font-size="15.3" text-anchor="middle" >Hypo−NoCGI</text>
<rect x="1048.7" y="539.9" width="273.5" height="26.2" fill="none" stroke="#333" stroke-width="1.3" />
<rect x="1058.3" y="549.7" width="8.6" height="7" fill="#ff0000" stroke="#000" stroke-width="1" />
<text x="1076.6" y="557" font-size="10.2" >UD5−DMGs</text>
<rect x="1148" y="549.7" width="8.6" height="7" fill="#0000ff" stroke="#000" stroke-width="1" />
<text x="1166.3" y="557" font-size="10.2" >UD10−DMGs</text>
<rect x="1237.4" y="549.7" width="8.6" height="7" fill="#00ff00" stroke="#000" stroke-width="1" />
<text x="1255.7" y="557" font-size="10.2" >AML2−DMGs</text>
<rect x="1336.7" y="539.6" width="334.7" height="26.4" fill="none" stroke="#333" stroke-width="1.3" />
<rect x="1346.3" y="549.7" width="8.4" height="7" fill="url(#mr)" stroke="#000" stroke-width="1" />
<text x="1364.5" y="557" font-size="10.2" >UD5−DM−DEGs</text>
<rect x="1456.3" y="549.7" width="8.4" height="7" fill="url(#mb)" stroke="#000" stroke-width="1" />
<text x="1474.3" y="557" font-size="10.2" >UD10−DM−DEGs</text>
<rect x="1566.3" y="549.7" width="8.4" height="7" fill="url(#mg)" stroke="#000" stroke-width="1" />
<text x="1584" y="557" font-size="10.2" >AML2−DM−DEGs</text>
<text transform="translate(1653.5,621.9) scale(1.06,1)" font-size="47" >d</text>
</svg>
</body></html>
